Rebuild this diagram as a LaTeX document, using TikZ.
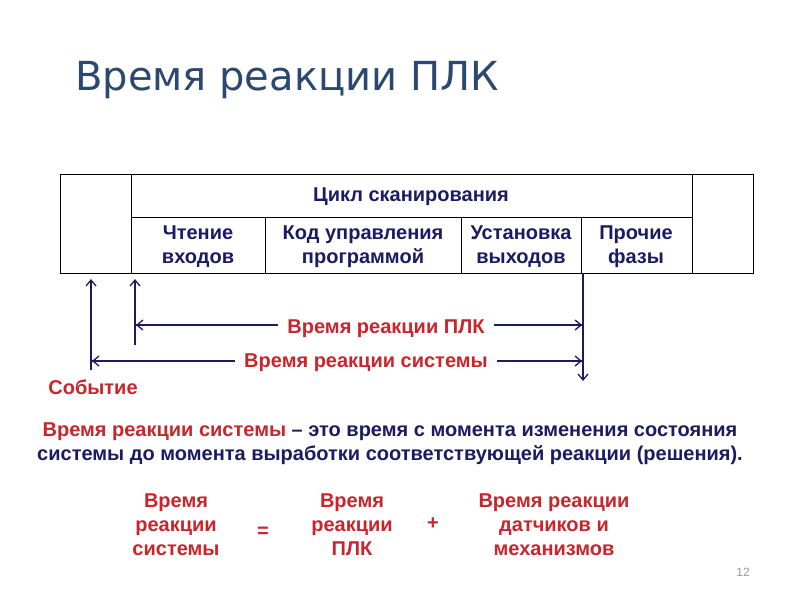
\documentclass[tikz,border=0pt]{standalone}
\usepackage{fontspec}
\setmainfont{Liberation Sans}
\newfontfamily\titlefont{DejaVu Sans}
\usetikzlibrary{arrows.meta}
\definecolor{navy}{HTML}{1B1B64}
\definecolor{myred}{HTML}{C8262C}
\definecolor{titleblue}{HTML}{2B4870}
\begin{document}
\begin{tikzpicture}[x=1pt,y=-1pt,
  frame/.style={draw=black,line width=1pt},
  celltext/.style={font=\fontsize{20}{24}\selectfont\bfseries,text=navy,align=center,inner sep=0pt},
  lbl/.style={font=\fontsize{20}{24}\selectfont\bfseries,text=myred,fill=white,inner xsep=9pt,inner ysep=2pt},
  conn/.style={draw=navy,line width=1.1pt},
  tip/.style={-{Straight Barb[length=6pt,width=10pt,line width=1.3pt]}},
  formula/.style={font=\fontsize{20}{24}\selectfont\bfseries,text=myred,align=center,inner sep=0pt}]
\useasboundingbox (0,0) rectangle (800,600);
\fill[white] (0,0) rectangle (800,600);

\node[anchor=west,font=\titlefont\fontsize{40}{44}\selectfont,text=titleblue,inner sep=0pt] (title) at (75,80) {Время реакции ПЛК};

% table frame
\draw[frame] (60,174) rectangle (753,273);
\draw[frame] (131,174) -- (131,273);
\draw[frame] (692,174) -- (692,273);
\draw[frame] (131,217) -- (692,217);
\draw[frame] (265,217) -- (265,273);
\draw[frame] (461,217) -- (461,273);
\draw[frame] (581,217) -- (581,273);

\node[celltext] (scan) at (411,197) {Цикл сканирования};
\node[celltext] (c1) at (198,247) {Чтение\\входов};
\node[celltext] (c2) at (363,247) {Код управления\\программой};
\node[celltext] (c3) at (521,247) {Установка\\выходов};
\node[celltext] (c4) at (636,247) {Прочие\\фазы};

% arrows
\coordinate (evbot) at (91,370);
\coordinate (evtop) at (91,279);
\coordinate (plcbot) at (135,345);
\coordinate (plctop) at (135,279);
\coordinate (outtop) at (583,273);
\coordinate (outbot) at (583,381);
\draw[conn,tip] (evbot) -- (evtop);
\draw[conn,tip] (plcbot) -- (plctop);
\draw[conn,tip] (outtop) -- (outbot);

\coordinate (p1) at (136,325);
\coordinate (p2) at (582,325);
\coordinate (s1) at (92,361);
\coordinate (s2) at (582,361);
\draw[conn,tip] (p1) -- (p2);
\draw[conn,tip] (p2) -- (p1);
\draw[conn,tip] (s1) -- (s2);
\draw[conn,tip] (s2) -- (s1);
\node[lbl] (plclbl) at (386,329) {Время реакции ПЛК};
\node[lbl] (syslbl) at (366,363) {Время реакции системы};

\node[font=\fontsize{20}{24}\selectfont\bfseries,text=myred,inner sep=0pt] (event) at (93,387) {Событие};

\node[font=\fontsize{20}{24}\selectfont\bfseries,text=navy,align=center,inner sep=0pt] (def) at (390,444)
  {\textcolor{myred}{Время реакции системы} – это время с момента изменения состояния\\системы до момента выработки соответствующей реакции (решения).};

\node[formula] (f1) at (176,525) {Время\\реакции\\системы};
\node[formula] (eq) at (263,532) {=};
\node[formula] (f2) at (352,525) {Время\\реакции\\ПЛК};
\node[formula] (plus) at (433,524) {+};
\node[formula] (f3) at (554,525) {Время реакции\\датчиков и\\механизмов};

\node[font=\fontsize{12}{14}\selectfont,text=gray!80,inner sep=0pt] (pg) at (743,572) {12};
\end{tikzpicture}
\end{document}
